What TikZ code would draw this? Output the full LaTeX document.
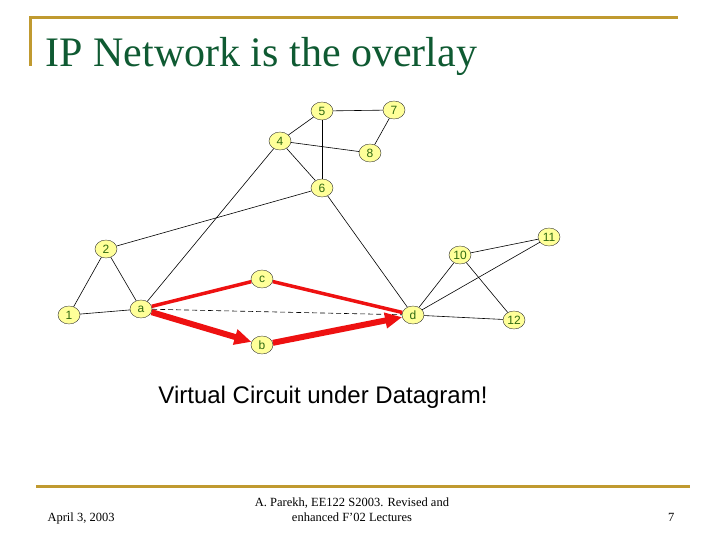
\documentclass[tikz,border=0pt]{standalone}
\usepackage{fontspec}
\setmainfont{Liberation Serif}
\setsansfont{Liberation Sans}
\usepackage{tikz}
\usetikzlibrary{arrows.meta,shapes.geometric}
\definecolor{titlegreen}{HTML}{0F5A32}
\definecolor{rulegold}{HTML}{C09A30}
\definecolor{routeryellow}{HTML}{FFFF99}
\definecolor{labelgreen}{HTML}{2F6A10}
\definecolor{pathred}{HTML}{EE1111}
\tikzset{
  router/.style   = {ellipse, draw=black!80, fill=routeryellow, inner sep=0pt,
                     minimum width=22pt, minimum height=18pt,
                     font=\sffamily\fontsize{12}{12}\selectfont, text=labelgreen},
  link/.style     = {black, line width=0.6pt},
  vc path/.style  = {pathred, line width=3.5pt},
  vc hop/.style   = {pathred, line width=6pt,
                     -{Triangle[length=17pt,width=15pt]}},
  gold rule/.style = {rulegold, line width=3pt},
  footer/.style   = {font=\fontsize{12.5}{15}\selectfont, align=center},
}

\begin{document}
\begin{tikzpicture}[x=1pt, y=-1pt]
    \useasboundingbox (0,0) rectangle (720,540);
    % slide frame
    \draw[gold rule] (30,66) -- (30,18) -- (678,18);
    \draw[gold rule] (36,486) -- (690,486);
    \node[anchor=base west, text=titlegreen,
          font=\fontsize{42}{44}\selectfont] (title) at (42,67) {IP Network is the overlay};
    % routers
    \node[router] (r5) at (322,111) {5};
    \node[router] (r7) at (394,110) {7};
    \node[router] (r4) at (280,141) {4};
    \node[router] (r8) at (370,153) {8};
    \node[router] (r6) at (322,188) {6};
    \node[router] (r2) at (106,249) {2};
    \node[router] (r10) at (460,255) {10};
    \node[router] (r11) at (549,237) {11};
    \node[router] (rc) at (262,279) {c};
    \node[router] (r1) at (69,315) {1};
    \node[router] (ra) at (141,309) {a};
    \node[router] (rd) at (413,315) {d};
    \node[router] (r12) at (514,320) {12};
    \node[router] (rb) at (262,345) {b};
    % links
    \draw[link] (r5) -- (r7);
    \draw[link] (r5) -- (r4);
    \draw[link] (r5) -- (r6);
    \draw[link] (r4) -- (r8);
    \draw[link] (r7) -- (r8);
    \draw[link] (r4) -- (r6);
    \draw[link] (r4) -- (ra);
    \draw[link] (r2) -- (r6);
    \draw[link] (r2) -- (r1);
    \draw[link] (r2) -- (ra);
    \draw[link] (r1) -- (ra);
    \draw[link] (r6) -- (rd);
    \draw[link] (rd) -- (r10);
    \draw[link] (rd) -- (r11);
    \draw[link] (rd) -- (r12);
    \draw[link] (r10) -- (r11);
    \draw[link] (r10) -- (r12);
    \draw[link, dash pattern=on 5pt off 3pt] (ra) -- (rd);
    % virtual circuit
    \draw[vc path] (ra) -- (rc);
    \draw[vc path] (rc) -- (rd);
    \draw[vc hop] (ra) -- (rb);
    \draw[vc hop] (rb) -- (rd);
    \node[font=\sffamily\fontsize{24}{26}\selectfont] (caption) at (323,397) {Virtual Circuit under Datagram!};
    % footer
    \node[footer, anchor=base west] (date) at (44,521) {April 3, 2003};
    \node[footer] (credit) at (352,510) {A. Parekh, EE122 S2003. Revised and\\enhanced  F'02 Lectures};
    \node[footer, anchor=base east] (page) at (678,521) {7};
\end{tikzpicture}
\end{document}
